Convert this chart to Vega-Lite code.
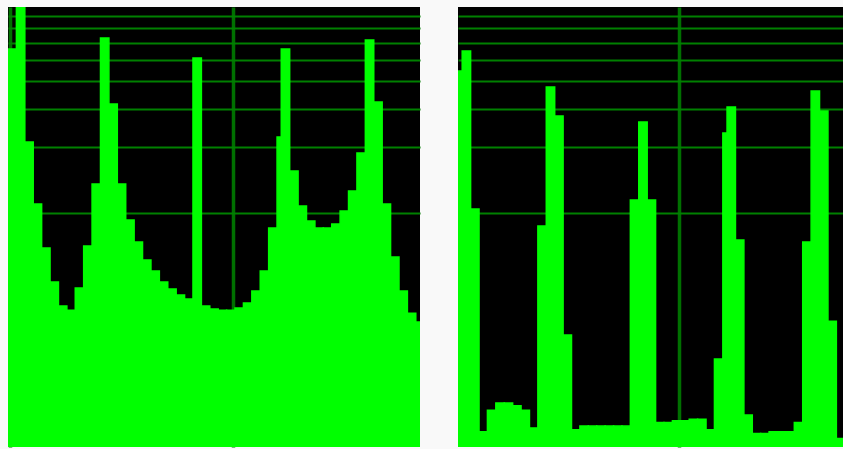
{
  "$schema": "https://vega.github.io/schema/vega-lite/v6.json",
  "background": "#f9f9f9",
  "padding": {"left": 8, "top": 7, "right": 0, "bottom": 2},
  "autosize": {"type": "pad"},
  "spacing": 38,
  "config": {
    "view": {"stroke": null, "fill": "#000000"},
    "axis": {"labels": false, "ticks": false, "domain": false, "title": null, "grid": true, "gridOpacity": 1}
  },
  "datasets": {
    "left": [
      {"lo": 0, "hi": 2, "n": 5625}, {"lo": 2, "hi": 4, "n": 9500}, {"lo": 4, "hi": 6, "n": 2107},
      {"lo": 6, "hi": 8, "n": 1095}, {"lo": 8, "hi": 10, "n": 688}, {"lo": 10, "hi": 12, "n": 481},
      {"lo": 12, "hi": 14, "n": 373}, {"lo": 14, "hi": 16, "n": 357}, {"lo": 16, "hi": 18, "n": 451},
      {"lo": 18, "hi": 20, "n": 703}, {"lo": 20, "hi": 22, "n": 1352}, {"lo": 22, "hi": 24, "n": 6318},
      {"lo": 24, "hi": 26, "n": 3148}, {"lo": 26, "hi": 28, "n": 1352}, {"lo": 28, "hi": 30, "n": 925},
      {"lo": 30, "hi": 32, "n": 733}, {"lo": 32, "hi": 34, "n": 606}, {"lo": 34, "hi": 36, "n": 540},
      {"lo": 36, "hi": 38, "n": 481}, {"lo": 38, "hi": 40, "n": 446}, {"lo": 40, "hi": 42, "n": 419},
      {"lo": 42, "hi": 44, "n": 402}, {"lo": 44, "hi": 46, "n": 5113}, {"lo": 46, "hi": 48, "n": 373},
      {"lo": 48, "hi": 50, "n": 361}, {"lo": 50, "hi": 52, "n": 357}, {"lo": 52, "hi": 54, "n": 357},
      {"lo": 54, "hi": 56, "n": 365}, {"lo": 56, "hi": 58, "n": 385}, {"lo": 58, "hi": 60, "n": 437},
      {"lo": 60, "hi": 62, "n": 540}, {"lo": 62, "hi": 64, "n": 850}, {"lo": 64, "hi": 65, "n": 2222},
      {"lo": 65, "hi": 67, "n": 5625}, {"lo": 67, "hi": 69, "n": 1551}, {"lo": 69, "hi": 71, "n": 1072},
      {"lo": 71, "hi": 73, "n": 915}, {"lo": 73, "hi": 75, "n": 850}, {"lo": 75, "hi": 77, "n": 850},
      {"lo": 77, "hi": 79, "n": 886}, {"lo": 79, "hi": 81, "n": 1017}, {"lo": 81, "hi": 83, "n": 1256},
      {"lo": 83, "hi": 85, "n": 1876}, {"lo": 85, "hi": 87, "n": 6186}, {"lo": 87, "hi": 89, "n": 3215},
      {"lo": 89, "hi": 91, "n": 1095}, {"lo": 91, "hi": 93, "n": 626}, {"lo": 93, "hi": 95, "n": 437},
      {"lo": 95, "hi": 97, "n": 346}, {"lo": 97, "hi": 98, "n": 315}
    ],
    "right": [
      {"lo": 0, "hi": 1, "n": 4459}, {"lo": 1, "hi": 3, "n": 5507}, {"lo": 3, "hi": 5, "n": 1039},
      {"lo": 5, "hi": 7, "n": 99}, {"lo": 7, "hi": 9, "n": 124}, {"lo": 9, "hi": 11, "n": 134},
      {"lo": 11, "hi": 13, "n": 134}, {"lo": 13, "hi": 15, "n": 130}, {"lo": 15, "hi": 17, "n": 124},
      {"lo": 17, "hi": 19, "n": 103}, {"lo": 19, "hi": 21, "n": 868}, {"lo": 21, "hi": 23, "n": 3766},
      {"lo": 23, "hi": 25, "n": 2773}, {"lo": 25, "hi": 27, "n": 275}, {"lo": 27, "hi": 29, "n": 101},
      {"lo": 29, "hi": 31, "n": 105}, {"lo": 31, "hi": 33, "n": 105}, {"lo": 33, "hi": 35, "n": 105},
      {"lo": 35, "hi": 37, "n": 105}, {"lo": 37, "hi": 39, "n": 105}, {"lo": 39, "hi": 41, "n": 105},
      {"lo": 41, "hi": 43, "n": 1142}, {"lo": 43, "hi": 45, "n": 2603}, {"lo": 45, "hi": 47, "n": 1142},
      {"lo": 47, "hi": 49, "n": 109}, {"lo": 49, "hi": 51, "n": 109}, {"lo": 51, "hi": 53, "n": 111},
      {"lo": 53, "hi": 55, "n": 111}, {"lo": 55, "hi": 57, "n": 113}, {"lo": 57, "hi": 59, "n": 113},
      {"lo": 59, "hi": 61, "n": 101}, {"lo": 61, "hi": 63, "n": 213}, {"lo": 63, "hi": 64, "n": 2317},
      {"lo": 64, "hi": 66, "n": 3049}, {"lo": 66, "hi": 68, "n": 749}, {"lo": 68, "hi": 70, "n": 118},
      {"lo": 70, "hi": 72, "n": 97}, {"lo": 72, "hi": 74, "n": 97}, {"lo": 74, "hi": 76, "n": 99},
      {"lo": 76, "hi": 78, "n": 99}, {"lo": 78, "hi": 80, "n": 99}, {"lo": 80, "hi": 82, "n": 109},
      {"lo": 82, "hi": 84, "n": 733}, {"lo": 84, "hi": 86, "n": 3610}, {"lo": 86, "hi": 88, "n": 2923},
      {"lo": 88, "hi": 90, "n": 318}, {"lo": 90, "hi": 92, "n": 92}
    ]
  },
  "hconcat": [
    {
      "width": 412,
      "height": 440,
      "data": {"name": "left"},
      "mark": {"type": "bar", "color": "#00ff00", "stroke": "#00ff00", "strokeWidth": 1.5, "clip": true},
      "encoding": {
        "x": {
          "field": "lo", "type": "quantitative",
          "scale": {"domain": [0, 98], "nice": false, "zero": false},
          "axis": {"values": [0.48, 53.52], "gridColor": "#007000", "gridWidth": 3.5}
        },
        "x2": {"field": "hi"},
        "y": {
          "field": "n", "type": "quantitative",
          "scale": {"type": "log", "domain": [84.2, 8763], "nice": false},
          "axis": {"values": [1000, 2000, 3000, 4000, 5000, 6000, 7000, 8000], "gridColor": "#008000", "gridWidth": 2}
        },
        "y2": {"datum": 84.2}
      }
    },
    {
      "width": 385,
      "height": 440,
      "data": {"name": "right"},
      "mark": {"type": "bar", "color": "#00ff00", "stroke": "#00ff00", "strokeWidth": 1.5, "clip": true},
      "encoding": {
        "x": {
          "field": "lo", "type": "quantitative",
          "scale": {"domain": [0, 91.58], "nice": false, "zero": false},
          "axis": {"values": [52.57], "gridColor": "#007000", "gridWidth": 3.5}
        },
        "x2": {"field": "hi"},
        "y": {
          "field": "n", "type": "quantitative",
          "scale": {"type": "log", "domain": [84.2, 8763], "nice": false},
          "axis": {"values": [1000, 2000, 3000, 4000, 5000, 6000, 7000, 8000], "gridColor": "#008000", "gridWidth": 2}
        },
        "y2": {"datum": 84.2}
      }
    }
  ]
}
